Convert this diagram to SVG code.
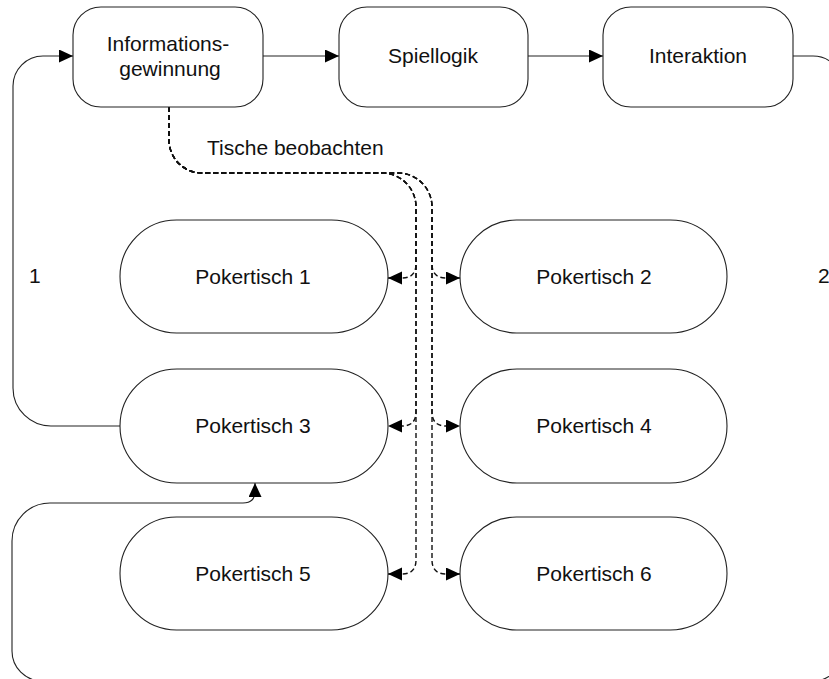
<svg xmlns="http://www.w3.org/2000/svg" width="829" height="679" viewBox="0 0 829 679">
<style>
.node{fill:#fff;stroke:#222;stroke-width:1.1}
.lbl{font-family:"Liberation Sans",Arial,sans-serif;font-size:21px;fill:#111;text-anchor:middle}
.free{font-family:"Liberation Sans",Arial,sans-serif;font-size:21px;fill:#111}
.solid{fill:none;stroke:#222;stroke-width:1.1}
.dash{fill:none;stroke:#111;stroke-width:1.4;stroke-dasharray:5,3}
</style>
<defs>
<marker id="arr" markerUnits="userSpaceOnUse" markerWidth="15" markerHeight="14" refX="14" refY="6.5" orient="auto" viewBox="0 0 15 14">
<path d="M0,0 L14,6.5 L0,13 Z" fill="#000" stroke="none"/>
</marker>
</defs>
<rect width="829" height="679" fill="#fff"/>
<g id="connectors">
<path class="solid" d="M263,56 H339" marker-end="url(#arr)"/>
<path class="solid" d="M528,56 H603" marker-end="url(#arr)"/>
<path class="solid" d="M120,426 H52 A38,38 0 0 1 13,388 V86 A30,30 0 0 1 43,56 H73" marker-end="url(#arr)"/>
<path class="solid" d="M793,56 H813 A30,30 0 0 1 843,86 V651 A30,30 0 0 1 813,681 H42 A30,30 0 0 1 12,651 V541 A38,38 0 0 1 50,503 H243 Q255,503 255,491 V483" marker-end="url(#arr)"/>
<path class="dash" d="M169,107 V140 A33,33 0 0 0 202,173 H382 A34,34 0 0 1 416,207 V264 Q416,278 402,278 H388" marker-end="url(#arr)"/>
<path class="dash" d="M169,107 V140 A33,33 0 0 0 202,173 H382 A34,34 0 0 1 416,207 V412 Q416,426 402,426 H388" marker-end="url(#arr)"/>
<path class="dash" d="M169,107 V140 A33,33 0 0 0 202,173 H382 A34,34 0 0 1 416,207 V560 Q416,574 402,574 H388" marker-end="url(#arr)"/>
<path class="dash" d="M169,107 V140 A33,33 0 0 0 202,173 H398 A34,34 0 0 1 432,207 V264 Q432,278 446,278 H460" marker-end="url(#arr)"/>
<path class="dash" d="M169,107 V140 A33,33 0 0 0 202,173 H398 A34,34 0 0 1 432,207 V412 Q432,426 446,426 H460" marker-end="url(#arr)"/>
<path class="dash" d="M169,107 V140 A33,33 0 0 0 202,173 H398 A34,34 0 0 1 432,207 V560 Q432,574 446,574 H460" marker-end="url(#arr)"/>
<text class="free" x="207" y="155">Tische beobachten</text>
<text class="free" x="29" y="283">1</text>
<text class="free" x="818" y="283">2</text>
</g>
<g id="informationsgewinnung">
<rect class="node" x="73" y="7" width="190" height="100" rx="28" ry="28"/>
<text class="lbl" x="168" y="51">Informations-</text>
<text class="lbl" x="170" y="76">gewinnung</text>
</g>
<g id="spiellogik">
<rect class="node" x="339" y="7" width="189" height="100" rx="28" ry="28"/>
<text class="lbl" x="433" y="63">Spiellogik</text>
</g>
<g id="interaktion">
<rect class="node" x="603" y="7" width="190" height="100" rx="28" ry="28"/>
<text class="lbl" x="698" y="63">Interaktion</text>
</g>
<g id="pokertisch1">
<rect class="node" x="120" y="220" width="268" height="113" rx="56.5" ry="56.5"/>
<text class="lbl" x="253" y="284">Pokertisch 1</text>
</g>
<g id="pokertisch2">
<rect class="node" x="460" y="220" width="267" height="113" rx="56.5" ry="56.5"/>
<text class="lbl" x="594" y="284">Pokertisch 2</text>
</g>
<g id="pokertisch3">
<rect class="node" x="120" y="369" width="268" height="114" rx="57" ry="57"/>
<text class="lbl" x="253" y="433">Pokertisch 3</text>
</g>
<g id="pokertisch4">
<rect class="node" x="460" y="369" width="267" height="114" rx="57" ry="57"/>
<text class="lbl" x="594" y="433">Pokertisch 4</text>
</g>
<g id="pokertisch5">
<rect class="node" x="120" y="517" width="268" height="113" rx="56.5" ry="56.5"/>
<text class="lbl" x="253" y="581">Pokertisch 5</text>
</g>
<g id="pokertisch6">
<rect class="node" x="460" y="517" width="267" height="113" rx="56.5" ry="56.5"/>
<text class="lbl" x="594" y="581">Pokertisch 6</text>
</g>
</svg>
